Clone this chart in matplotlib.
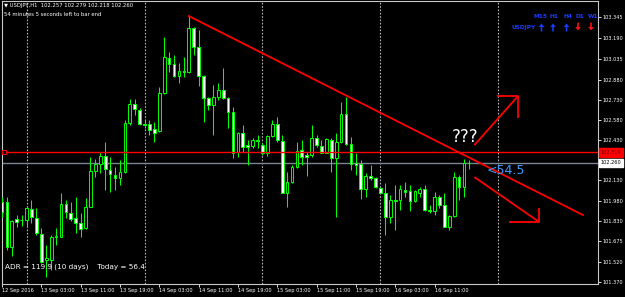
import matplotlib
matplotlib.use('Agg')
import matplotlib.pyplot as plt
import matplotlib.transforms as mtransforms
from matplotlib.patches import FancyArrow
import numpy as np

# USDJPY H1 candles, first bar = 12 Sep 19:00
opens = [101.971, 101.971, 101.636, 101.842, 101.835, 101.835, 101.917, 101.847, 101.728, 101.536,
         101.536, 101.710, 101.710, 101.951, 101.884, 101.847, 101.815, 101.777, 101.934, 102.200,
         102.252, 102.312, 102.207, 102.170, 102.145, 102.195, 102.555, 102.697, 102.654, 102.550,
         102.548, 102.513, 102.498, 102.779, 103.039, 102.995, 102.908, 102.945, 102.940, 103.263,
         103.121, 102.908, 102.741, 102.692, 102.754, 102.803, 102.741, 102.642, 102.344, 102.480,
         102.393, 102.386, 102.431, 102.393, 102.331, 102.461, 102.548, 102.426, 102.038, 102.120,
         102.232, 102.356, 102.319, 102.319, 102.448, 102.386, 102.336, 102.431, 102.294, 102.418,
         102.622, 102.401, 102.257, 102.252, 102.063, 102.162, 102.145, 102.071, 102.038, 101.854,
         101.984, 101.984, 102.058, 102.051, 101.979, 102.038, 102.063, 101.909, 101.904, 102.003,
         101.946, 101.785, 101.864, 102.153, 102.083, 102.257]
highs = [102.008, 102.003, 101.835, 101.872, 101.872, 101.934, 101.984, 101.922, 101.777, 101.648,
         101.723, 101.775, 102.033, 101.984, 101.971, 102.003, 101.889, 101.996, 102.307, 102.287,
         102.344, 102.416, 102.307, 102.232, 102.282, 102.580, 102.734, 102.734, 102.667, 102.580,
         102.580, 102.567, 102.828, 103.196, 103.089, 103.064, 103.007, 103.047, 103.355, 103.275,
         103.250, 102.915, 102.754, 102.841, 102.858, 102.965, 102.754, 102.679, 102.493, 102.543,
         102.431, 102.443, 102.468, 102.406, 102.468, 102.580, 102.605, 102.468, 102.195, 102.244,
         102.418, 102.431, 102.344, 102.543, 102.468, 102.431, 102.443, 102.443, 102.480, 102.716,
         102.749, 102.456, 102.336, 102.282, 102.182, 102.244, 102.158, 102.083, 102.108, 102.021,
         102.095, 102.095, 102.120, 102.095, 102.058, 102.083, 102.095, 101.946, 102.046, 102.021,
         102.038, 101.872, 102.195, 102.170, 102.287, 102.279]
lows = [101.859, 101.611, 101.566, 101.785, 101.790, 101.785, 101.815, 101.723, 101.512, 101.412,
        101.462, 101.648, 101.705, 101.847, 101.830, 101.735, 101.710, 101.765, 101.929, 102.158,
        102.182, 102.058, 102.046, 102.058, 102.095, 102.182, 102.543, 102.617, 102.543, 102.518,
        102.468, 102.418, 102.493, 102.774, 102.940, 102.898, 102.853, 102.898, 102.932, 103.064,
        102.833, 102.567, 102.654, 102.468, 102.729, 102.734, 102.518, 102.294, 102.307, 102.344,
        102.244, 102.369, 102.369, 102.319, 102.312, 102.456, 102.418, 102.033, 101.934, 102.108,
        102.220, 102.244, 102.162, 102.307, 102.381, 102.331, 102.331, 102.195, 101.859, 102.411,
        102.393, 102.207, 102.170, 101.989, 102.008, 102.133, 102.071, 102.033, 101.723, 101.810,
        101.760, 101.909, 102.008, 101.904, 101.971, 102.008, 101.904, 101.884, 101.872, 101.922,
        101.780, 101.760, 101.859, 101.984, 102.008, 102.218]
closes = [101.897, 101.636, 101.830, 101.822, 101.837, 101.922, 101.854, 101.735, 101.524, 101.549,
          101.705, 101.718, 101.951, 101.897, 101.842, 101.815, 101.765, 101.934, 102.200, 102.252,
          102.312, 102.212, 102.175, 102.145, 102.195, 102.555, 102.697, 102.659, 102.548, 102.540,
          102.505, 102.485, 102.779, 103.047, 102.995, 102.908, 102.945, 102.935, 103.263, 103.126,
          102.908, 102.741, 102.692, 102.754, 102.803, 102.741, 102.642, 102.336, 102.480, 102.381,
          102.381, 102.431, 102.423, 102.331, 102.461, 102.548, 102.431, 102.038, 102.120, 102.232,
          102.351, 102.307, 102.307, 102.443, 102.393, 102.336, 102.436, 102.294, 102.418, 102.622,
          102.401, 102.252, 102.247, 102.063, 102.162, 102.145, 102.078, 102.038, 101.854, 101.984,
          101.979, 102.063, 102.046, 101.979, 102.051, 102.063, 101.909, 101.904, 102.003, 101.946,
          101.785, 101.864, 102.158, 102.083, 102.257, 102.260]

# price scale labels (right) and time labels (bottom, every 8 bars)
price_ticks = [103.345, 103.190, 103.035, 102.880, 102.730, 102.580, 102.430,
               102.130, 101.980, 101.830, 101.675, 101.520, 101.370]
time_labels = ['12 Sep 2016', '13 Sep 03:00', '13 Sep 11:00', '13 Sep 19:00', '14 Sep 03:00',
               '14 Sep 11:00', '14 Sep 19:00', '15 Sep 03:00', '15 Sep 11:00', '15 Sep 19:00',
               '16 Sep 03:00', '16 Sep 11:00']
day_breaks = [5, 29, 53, 77, 101]

bid = 102.260
level_line = 102.339
level_label = '102.314'

# trend panel: timeframe -> direction (1 up, -1 down)
frames = ['M15', 'H1', 'H4', 'D1', 'W1']
trend_dirs = [1, 1, 1, -1, -1]

# drawn objects (bar index, price)
trend_x = [38, 118.2]
trend_y = [103.355, 101.872]
up_arrow = ([96.1, 105.0], [102.393, 102.759])
up_head = ([100.7, 105.0, 105.0], [102.759, 102.759, 102.595])
down_arrow = ([96.1, 109.3], [102.155, 101.820])
down_head = ([103.2, 109.3, 109.3], [101.820, 101.820, 101.924])

W, H = 625, 297
fig = plt.figure(figsize=(W / 100, H / 100), dpi=100, facecolor='black')
ax = fig.add_axes([2 / W, 13 / H, 596 / W, 283 / H], facecolor='black')
ax.set_xlim(0.12, 121.26)
ax.set_ylim(101.358, 103.467)

green = '#00ff00'
idx = np.arange(len(opens))
o = np.array(opens); c = np.array(closes)
ax.vlines(idx, lows, highs, color=green, lw=0.75, zorder=3)
bottoms = np.minimum(o, c)
heights = np.maximum(np.abs(c - o), 0.003)
faces = ['white' if cc < oo else 'black' for oo, cc in zip(o, c)]
ax.bar(idx, heights, bottom=bottoms, width=0.55, color=faces, edgecolor=green, lw=0.7, zorder=4)

for d in day_breaks:
    ax.axvline(d, color='#b8b8b8', lw=0.8, ls=(0, (1.5, 1.5)), zorder=1)

ax.axhline(level_line, color='#ff0000', lw=1.0, zorder=5)
ax.plot([0.45], [level_line], marker='s', ms=3, mfc='black', mec='#ff0000', mew=0.7, zorder=6,
        clip_on=False)
ax.axhline(bid, color='#7a8494', lw=1.0, zorder=2)

ax.plot(trend_x, trend_y, color='#ff0000', lw=1.3, zorder=6)
for xs, ys in [up_arrow, up_head, down_arrow, down_head]:
    ax.plot(xs, ys, color='#ff0000', lw=1.3, zorder=6, solid_capstyle='butt')

ax.text(91.6, 102.453, '???', color='white', fontsize=12, va='center', ha='left', zorder=7)
ax.text(98.7, 102.207, '<54.5', color='#3d9bff', fontsize=9, va='center', ha='left', zorder=7)

for s in ax.spines.values():
    s.set_color('#c8c8c8')
    s.set_linewidth(0.8)

ax.yaxis.tick_right()
ax.set_yticks(price_ticks)
ax.set_yticklabels(['%.3f' % p for p in price_ticks])
ax.tick_params(axis='y', colors='white', labelsize=3.6, length=2, width=0.6, pad=1)
ax.set_xticks(np.arange(len(time_labels)) * 8)
ax.set_xticklabels(time_labels)
ax.tick_params(axis='x', colors='white', labelsize=3.6, length=2, width=0.6, pad=1)
for lab in ax.get_xticklabels():
    lab.set_ha('left')

trans = mtransforms.blended_transform_factory(ax.transAxes, ax.transData)
ax.text(1.004, level_line, level_label, transform=trans, color='#600000', fontsize=3.6,
        va='center', ha='left', clip_on=False,
        bbox=dict(boxstyle='square,pad=0.35', fc='#ff0000', ec='#ff0000'))
ax.text(1.004, bid, '%.3f' % bid, transform=trans, color='black', fontsize=3.6,
        va='center', ha='left', clip_on=False,
        bbox=dict(boxstyle='square,pad=0.35', fc='white', ec='white'))

# overlay in pixel units for the screen texts
ov = fig.add_axes([0, 0, 1, 1], facecolor='none')
ov.set_xlim(0, W)
ov.set_ylim(H, 0)
ov.axis('off')

ov.text(4, 6, '\u25bc USDJPY,H1  102.257 102.279 102.218 102.260', color='white',
        fontsize=3.8, va='center', ha='left')
ov.text(4, 15, '54 minutes 5 seconds left to bar end', color='white',
        fontsize=3.8, va='center', ha='left')
ov.text(5, 267, 'ADR = 119.9 (10 days)    Today = 56.4', color='white',
        fontsize=5.2, va='center', ha='left')

blue = '#1a3cff'
red = '#ff1010'
label_x = [533, 550, 563, 576, 588]
arrow_x = [541.5, 553, 566.5, 578, 591]
for lbl, x in zip(frames, label_x):
    ov.text(x, 16.5, lbl, color=blue, fontsize=4.2, va='center', ha='left', weight='bold')
ov.text(511, 27, 'USDJPY', color=blue, fontsize=4.2, va='center', ha='left', weight='bold')
for x, d in zip(arrow_x, trend_dirs):
    col = blue if d > 0 else red
    y0 = 31.5 if d > 0 else 22.5
    ov.add_patch(FancyArrow(x, y0, 0, -8 * d, width=1.6, head_width=5.5, head_length=3.5,
                            length_includes_head=True, color=col, lw=0))

fig.savefig('out.png', dpi=100, facecolor='black')
